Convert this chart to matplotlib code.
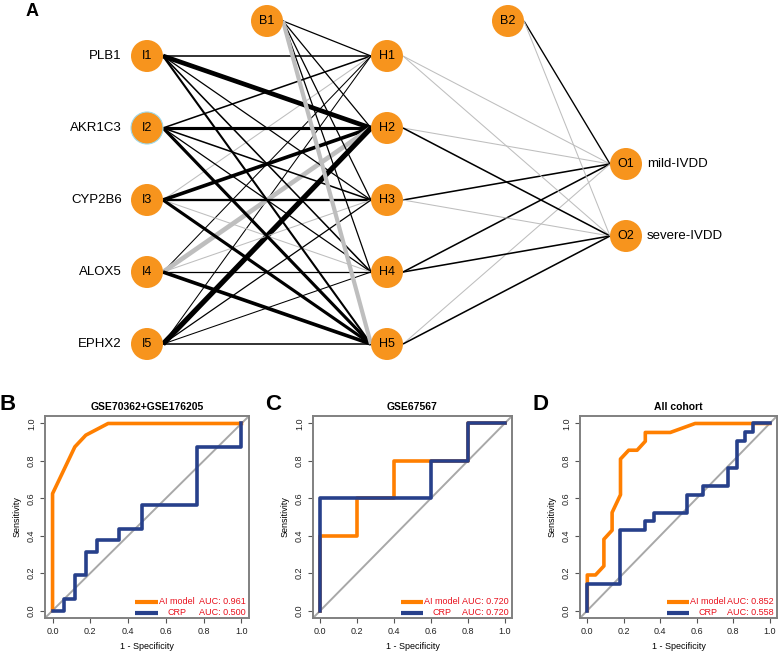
import matplotlib.pyplot as plt
import matplotlib.patches as pat

plt.rcParams['font.family'] = ['Liberation Sans', 'DejaVu Sans']

W, H = 778, 657
NODE_COLOR = '#F7941D'
POS_COLOR = 'black'
NEG_COLOR = '#BEBEBE'
AI_COLOR = '#FF7F00'
CRP_COLOR = '#27408B'
FRAME_COLOR = '#808080'
AUC_COLOR = '#E8101C'

# ---- network (panel A) ----
input_names = ['PLB1', 'AKR1C3', 'CYP2B6', 'ALOX5', 'EPHX2']
output_names = ['mild-IVDD', 'severe-IVDD']

# input -> hidden weights; rows B1, I1..I5 ; cols H1..H5 (sign = colour, size = width)
wts_ih = [
    [1.2, 1.2, 1.2, 1.2, -4.0],
    [1.5, 4.5, 1.2, 1.5, 2.0],
    [1.5, 3.0, 1.5, 1.2, 3.0],
    [-1.0, 3.5, 2.2, -1.0, 3.0],
    [1.0, -4.5, -1.0, 1.2, 3.5],
    [1.0, 5.0, 1.2, 1.0, 1.5],
]
# hidden -> output weights; rows B2, H1..H5 ; cols O1, O2
wts_ho = [
    [1.3, -1.0],
    [-1.0, -1.0],
    [-1.0, 1.5],
    [1.5, -1.0],
    [1.5, 1.5],
    [-1.0, 1.5],
]

# ---- ROC curves (1 - specificity, sensitivity) ----
b_ai_fpr = [0, 0, 0.118, 0.176, 0.294, 1.0]
b_ai_tpr = [0, 0.625, 0.875, 0.9375, 1.0, 1.0]
b_crp_fpr = [0, 0.059, 0.059, 0.118, 0.118, 0.176, 0.176, 0.235, 0.235, 0.353, 0.353,
             0.471, 0.471, 0.765, 0.765, 1.0, 1.0]
b_crp_tpr = [0, 0, 0.0625, 0.0625, 0.1875, 0.1875, 0.3125, 0.3125, 0.375, 0.375, 0.4375,
             0.4375, 0.5625, 0.5625, 0.875, 0.875, 1.0]

c_ai_fpr = [0, 0, 0.2, 0.2, 0.4, 0.4, 0.6, 0.8, 0.8, 1.0]
c_ai_tpr = [0, 0.4, 0.4, 0.6, 0.6, 0.8, 0.8, 0.8, 1.0, 1.0]
c_crp_fpr = [0, 0, 0.6, 0.6, 0.8, 0.8, 1.0]
c_crp_tpr = [0, 0.6, 0.6, 0.8, 0.8, 1.0, 1.0]

d_ai_fpr = [0, 0, 0.045, 0.091, 0.091, 0.136, 0.136, 0.182, 0.182, 0.227, 0.273,
            0.318, 0.318, 0.455, 0.591, 1.0]
d_ai_tpr = [0, 0.190, 0.190, 0.238, 0.381, 0.429, 0.524, 0.619, 0.810, 0.857, 0.857,
            0.905, 0.952, 0.952, 1.0, 1.0]
d_crp_fpr = [0, 0, 0.182, 0.182, 0.318, 0.318, 0.364, 0.364, 0.545, 0.545, 0.636,
             0.636, 0.773, 0.773, 0.818, 0.818, 0.864, 0.864, 0.909, 0.909, 1.0]
d_crp_tpr = [0, 0.143, 0.143, 0.429, 0.429, 0.476, 0.476, 0.524, 0.524, 0.619, 0.619,
             0.667, 0.667, 0.762, 0.762, 0.905, 0.905, 0.952, 0.952, 1.0, 1.0]

titles = ['GSE70362+GSE176205', 'GSE67567', 'All cohort']
letters = ['B', 'C', 'D']
ai_auc = ['0.961', '0.720', '0.852']
crp_auc = ['0.500', '0.720', '0.558']

fig = plt.figure(figsize=(W / 100, H / 100), dpi=100)

# network axes in pixel units
ax0 = fig.add_axes([0, 0, 1, 1])
ax0.set_xlim(0, W)
ax0.set_ylim(H, 0)
ax0.axis('off')

R = 16
x_in, x_hid, x_out = 147, 387, 626
row0, dy = 56, 72
in_y = [row0 + i * dy for i in range(len(input_names))]
hid_y = [row0 + i * dy for i in range(len(wts_ih[0]))]
mid = sum(hid_y) / len(hid_y)
out_y = [mid - dy / 2 + i * dy for i in range(len(output_names))]
b1 = (267, 21)
b2 = (508, 21)


def edge(p0, p1, w):
    ax0.plot([p0[0], p1[0]], [p0[1], p1[1]], color=POS_COLOR if w > 0 else NEG_COLOR,
             lw=abs(w) * 0.75, solid_capstyle='butt', zorder=1)


for j, hy in enumerate(hid_y):
    for i, iy in enumerate(in_y):
        edge((x_in + R, iy), (x_hid - R, hy), wts_ih[i + 1][j])
for j, hy in enumerate(hid_y):
    edge((b1[0] + R, b1[1]), (x_hid - R, hy), wts_ih[0][j])

for k, oy in enumerate(out_y):
    for j, hy in enumerate(hid_y):
        edge((x_hid + R, hy), (x_out - R, oy), wts_ho[j + 1][k])
for k, oy in enumerate(out_y):
    edge((b2[0] + R, b2[1]), (x_out - R, oy), wts_ho[0][k])


def node(x, y, label, ec='none'):
    ax0.add_patch(pat.Circle((x, y), R, facecolor=NODE_COLOR, edgecolor=ec, lw=0.8, zorder=3))
    ax0.text(x, y, label, ha='center', va='center', fontsize=9, zorder=4)


for i, iy in enumerate(in_y):
    node(x_in, iy, 'I%d' % (i + 1), ec='#9ED8E8' if i == 1 else 'none')
    ax0.text(x_in - R - 9, iy, input_names[i], ha='right', va='center', fontsize=9.5)
for j, hy in enumerate(hid_y):
    node(x_hid, hy, 'H%d' % (j + 1))
for k, oy in enumerate(out_y):
    node(x_out, oy, 'O%d' % (k + 1))
    ax0.text(x_out + R + 5, oy, output_names[k], ha='left', va='center', fontsize=9.5)
node(*b1, 'B1')
node(*b2, 'B2')
ax0.text(32, 12, 'A', ha='center', va='center', fontsize=13, fontweight='bold')

# ---- ROC panels ----
boxes = [(45, 249), (313, 512), (580, 777)]
box_top, box_bot = 416, 618
letter_x = [8, 273, 541]
curves = [(b_ai_fpr, b_ai_tpr, b_crp_fpr, b_crp_tpr),
          (c_ai_fpr, c_ai_tpr, c_crp_fpr, c_crp_tpr),
          (d_ai_fpr, d_ai_tpr, d_crp_fpr, d_crp_tpr)]

for n, (x0, x1) in enumerate(boxes):
    ax = fig.add_axes([x0 / W, (H - box_bot) / H, (x1 - x0) / W, (box_bot - box_top) / H])
    ax.set_xlim(-0.04, 1.04)
    ax.set_ylim(-0.04, 1.04)
    ax.axline((0, 0), (1, 1), color='#A8A8A8', lw=1.4, zorder=1)
    afpr, atpr, cfpr, ctpr = curves[n]
    ax.plot(afpr, atpr, color=AI_COLOR, lw=2.6, zorder=2)
    ax.plot(cfpr, ctpr, color=CRP_COLOR, lw=2.6, zorder=3)

    ticks = [0, 0.2, 0.4, 0.6, 0.8, 1.0]
    ax.set_xticks(ticks)
    ax.set_yticks(ticks)
    ax.set_xticklabels(['%.1f' % t for t in ticks])
    ax.set_yticklabels(['%.1f' % t for t in ticks], rotation=90, va='center')
    ax.tick_params(labelsize=6.5, length=3.5, width=0.8, color='#555555', labelcolor='#222222', pad=3)
    for s in ax.spines.values():
        s.set_color(FRAME_COLOR)
        s.set_linewidth(1.4)
    ax.set_xlabel('1 - Specificity', fontsize=6.5, labelpad=4)
    ax.set_ylabel('Sensitivity', fontsize=6.5, labelpad=4)
    ax.set_title(titles[n], fontsize=7.5, fontweight='bold', pad=4)

    # legend in R style
    for r, (name, auc, col) in enumerate([('AI model', ai_auc[n], AI_COLOR),
                                          ('CRP', crp_auc[n], CRP_COLOR)]):
        yy = 0.08 - r * 0.053
        ax.plot([0.44, 0.555], [yy, yy], color=col, lw=3, transform=ax.transAxes,
                solid_capstyle='butt', zorder=4)
        ax.text(0.648, yy, name, color=AUC_COLOR, fontsize=6.5, ha='center', va='center',
                transform=ax.transAxes)
        ax.text(0.985, yy, 'AUC: ' + auc, color=AUC_COLOR, fontsize=6.5, ha='right', va='center',
                transform=ax.transAxes)

    fig.text(letter_x[n] / W, 1 - 405 / H, letters[n], fontsize=16, fontweight='bold',
             ha='center', va='center')

fig.savefig('out.png', dpi=100)
